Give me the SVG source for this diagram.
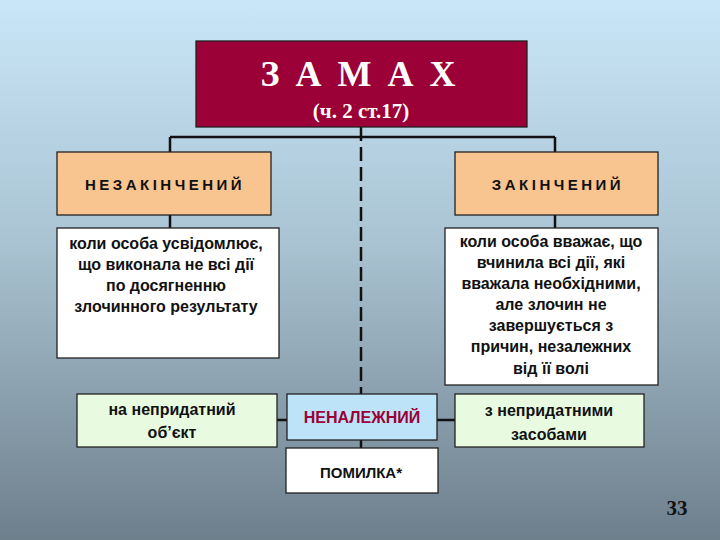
<svg xmlns="http://www.w3.org/2000/svg" width="720" height="540" viewBox="0 0 720 540">
<defs>
<linearGradient id="bg" x1="0" y1="0" x2="0" y2="1">
<stop offset="0" stop-color="#c9e6f8"/><stop offset="0.45" stop-color="#a9c3d2"/><stop offset="1" stop-color="#6e7f8c"/>
</linearGradient>
</defs>
<style>
.b{stroke:#222;stroke-width:1.3}
.t{font-family:"Liberation Sans",Arial,sans-serif;font-size:16px;font-weight:bold;fill:#111;text-anchor:middle}
.h{font-family:"Liberation Sans",Arial,sans-serif;font-size:15px;font-weight:bold;fill:#111;text-anchor:middle;letter-spacing:3.5px}
.c{stroke:#111;stroke-width:2.5;fill:none}
</style>
<rect width="720" height="540" fill="url(#bg)"/>
<g id="connectors">
<path class="c" d="M170 137H555M170 137V152M555 137V152M170 215V228M555 215V228M277 420H287M437 420H455M361 440V448"/>
<path class="c" d="M361 127V394" stroke-dasharray="14,6"/>
</g>
<g id="zamakh"><rect x="196" y="41" width="331" height="86" fill="#9b0036" class="b"/>
<text x="366" y="86" text-anchor="middle" font-family="Liberation Serif,serif" font-weight="bold" font-size="36" fill="#fff" letter-spacing="16">ЗАМАХ</text>
<text x="361" y="118" text-anchor="middle" font-family="Liberation Serif,serif" font-weight="bold" font-size="21" fill="#fff">(ч. 2  ст.17)</text></g>
<g id="nezak"><rect x="57" y="152" width="214" height="63" fill="#f8c590" class="b"/><text class="h" x="165" y="190">НЕЗАКІНЧЕНИЙ</text></g>
<g id="zak"><rect x="455" y="152" width="203" height="63" fill="#f8c590" class="b"/><text class="h" x="558" y="190">ЗАКІНЧЕНИЙ</text></g>
<g id="nezak-desc"><rect x="57" y="228" width="222" height="130" fill="#fff" class="b"/>
<text class="t" x="166" y="249">коли особа усвідомлює,</text><text class="t" x="166" y="270">що виконала не всі дії</text><text class="t" x="166" y="291">по досягненню</text><text class="t" x="166" y="312">злочинного результату</text></g>
<g id="zak-desc"><rect x="445" y="228" width="213" height="157" fill="#fff" class="b"/>
<text class="t" x="551" y="247">коли особа вважає,  що</text><text class="t" x="551" y="268">вчинила всі дії, які</text><text class="t" x="551" y="289">вважала необхідними,</text><text class="t" x="551" y="310">але злочин не</text><text class="t" x="551" y="331">завершується з</text><text class="t" x="551" y="352">причин, незалежних</text><text class="t" x="551" y="374">від її волі</text></g>
<g id="object"><rect x="77" y="394" width="200" height="53" fill="#e8fbe0" class="b"/><text class="t" x="172" y="415">на непридатний</text><text class="t" x="172" y="438">об’єкт</text></g>
<g id="nenal"><rect x="287" y="394" width="150" height="46" fill="#bde3f8" class="b"/><text class="t" x="362" y="423" style="fill:#9b0036">НЕНАЛЕЖНИЙ</text></g>
<g id="means"><rect x="455" y="394" width="189" height="53" fill="#e8fbe0" class="b"/><text class="t" x="549" y="416">з непридатними</text><text class="t" x="549" y="440">засобами</text></g>
<g id="pomylka"><rect x="286" y="448" width="152" height="45" fill="#fff" class="b"/><text class="t" x="361" y="478" style="font-size:15px">ПОМИЛКА*</text></g>
<text x="677" y="515" text-anchor="middle" font-family="Liberation Serif,serif" font-weight="bold" font-size="21" fill="#111">33</text>
</svg>
